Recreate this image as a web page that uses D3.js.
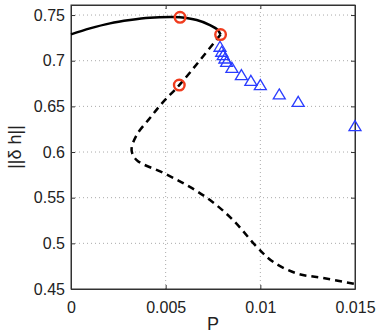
<!DOCTYPE html>
<html>
<head>
<meta charset="utf-8">
<script src="https://cdn.jsdelivr.net/npm/d3@7"></script>
<style>
  body { margin: 0; background: #fff; }
  text { font-family: "Liberation Sans", Arial, sans-serif; fill: #222; }
</style>
</head>
<body>
<div id="chart"></div>
<script>
// stable branch (solid)
const solidP = [0, 0.001, 0.00206, 0.00312, 0.00417, 0.00523, 0.00576, 0.00664, 0.00734, 0.00776, 0.0079];
const solidH = [0.7289, 0.7354, 0.7409, 0.7445, 0.7470, 0.7478, 0.7475, 0.7445, 0.7390, 0.7336, 0.7286];
// unstable branch (dashed)
const dashedP = [0.0079, 0.00572, 0.00486, 0.00417, 0.00347, 0.0032, 0.00347, 0.00486, 0.00611, 0.00734, 0.00856, 0.00981, 0.01067, 0.01192, 0.01331, 0.015];
const dashedH = [0.7286, 0.6733, 0.6547, 0.6372, 0.6186, 0.6021, 0.5912, 0.5773, 0.5638, 0.5474, 0.5255, 0.4962, 0.4798, 0.4671, 0.4620, 0.4556];
// red circles
const circleP = [0.00576, 0.0079, 0.00572];
const circleH = [0.7475, 0.7286, 0.6733];
// blue triangles
const triP = [0.00787, 0.00796, 0.00804, 0.00813, 0.00822, 0.0085, 0.009, 0.0095, 0.01, 0.011, 0.012, 0.015];
const triH = [0.7153, 0.7098, 0.7062, 0.7024, 0.6988, 0.6922, 0.6843, 0.6780, 0.6733, 0.6631, 0.6550, 0.6284];
// ticks
const xTicks = [0, 0.005, 0.01, 0.015];
const xTickLabels = ["0", "0.005", "0.01", "0.015"];
const yTicks = [0.45, 0.5, 0.55, 0.6, 0.65, 0.7, 0.75];
const yTickLabels = ["0.45", "0.5", "0.55", "0.6", "0.65", "0.7", "0.75"];

(function () {
    let width = 382, height = 336;
    let m = {left: 71, right: 27, top: 5, bottom: 47};
    let svg = d3.select("#chart")
        .append("svg")
        .attr("width", width)
        .attr("height", height);

    let x = d3.scaleLinear()
        .domain([0, 0.015])
        .range([m.left, width - m.right]);
    let y = d3.scaleLinear()
        .domain([0.45, 0.761])
        .range([height - m.bottom, m.top]);

    // grid
    svg.append("g")
        .selectAll("line")
        .data(xTicks.slice(1, -1))
        .enter()
        .append("line")
        .attr("x1", d => x(d)).attr("x2", d => x(d))
        .attr("y1", y.range()[0]).attr("y2", y.range()[1])
        .attr("stroke", "#aaa")
        .attr("stroke-dasharray", "1,3");
    svg.append("g")
        .selectAll("line")
        .data(yTicks.slice(1))
        .enter()
        .append("line")
        .attr("y1", d => y(d)).attr("y2", d => y(d))
        .attr("x1", x.range()[0]).attr("x2", x.range()[1])
        .attr("stroke", "#aaa")
        .attr("stroke-dasharray", "1,3");

    // axes, ticks inside on all four sides
    let xAxis = svg.append("g")
        .attr("transform", `translate(0,${y.range()[0]})`)
        .call(d3.axisBottom(x).tickValues(xTicks).tickSizeInner(-4).tickSizeOuter(0).tickPadding(10)
            .tickFormat((d, i) => xTickLabels[i]));
    svg.append("g")
        .attr("transform", `translate(${x.range()[0]},0)`)
        .call(d3.axisLeft(y).tickValues(yTicks).tickSizeInner(-4).tickSizeOuter(0).tickPadding(6)
            .tickFormat((d, i) => yTickLabels[i]));
    svg.append("g")
        .attr("transform", `translate(0,${y.range()[1]})`)
        .call(d3.axisTop(x).tickValues(xTicks).tickSizeInner(-4).tickSizeOuter(0).tickFormat(""));
    svg.append("g")
        .attr("transform", `translate(${x.range()[1]},0)`)
        .call(d3.axisRight(y).tickValues(yTicks).tickSizeInner(-4).tickSizeOuter(0).tickFormat(""));
    svg.selectAll(".domain").attr("stroke", "#333");
    svg.selectAll(".tick line").attr("stroke", "#333");
    svg.selectAll(".tick text")
        .attr("font-size", "16px")
        .attr("fill", "#222")
        .attr("font-family", "'Liberation Sans', Arial, sans-serif");
    xAxis.selectAll(".tick text").attr("dy", "0.9em");
    svg.append("rect")
        .attr("x", x.range()[0]).attr("y", y.range()[1])
        .attr("width", x.range()[1] - x.range()[0])
        .attr("height", y.range()[0] - y.range()[1])
        .attr("fill", "none")
        .attr("stroke", "#333");

    // curves
    let line = d3.line()
        .curve(d3.curveCatmullRom.alpha(0.5))
        .x(d => x(d[0]))
        .y(d => y(d[1]));
    svg.append("path")
        .attr("d", line(d3.zip(solidP, solidH)))
        .attr("fill", "none")
        .attr("stroke", "#000")
        .attr("stroke-width", 2.5);
    svg.append("path")
        .attr("d", line(d3.zip(dashedP, dashedH)))
        .attr("fill", "none")
        .attr("stroke", "#000")
        .attr("stroke-width", 2.5)
        .attr("stroke-dasharray", "7,5");

    // triangles
    svg.append("g")
        .selectAll("path")
        .data(d3.zip(triP, triH))
        .enter()
        .append("path")
        .attr("transform", d => `translate(${x(d[0])},${y(d[1])})`)
        .attr("d", "M0,-5.5L6,4.5L-6,4.5Z")
        .attr("fill", "none")
        .attr("stroke", "#2a3cff")
        .attr("stroke-width", 1.3);

    // circles
    svg.append("g")
        .selectAll("circle")
        .data(d3.zip(circleP, circleH))
        .enter()
        .append("circle")
        .attr("cx", d => x(d[0]))
        .attr("cy", d => y(d[1]))
        .attr("r", 5.3)
        .attr("fill", "none")
        .attr("stroke", "#f03c1e")
        .attr("stroke-width", 2.4);

    // labels
    svg.append("text")
        .attr("x", (x.range()[0] + x.range()[1]) / 2)
        .attr("y", 330)
        .attr("text-anchor", "middle")
        .attr("font-size", "18px")
        .text("P");
    svg.append("text")
        .attr("transform", `translate(21,${(y.range()[0] + y.range()[1]) / 2}) rotate(-90)`)
        .attr("text-anchor", "middle")
        .attr("font-size", "18px")
        .text("||δ h||");
})()
</script>
</body>
</html>
